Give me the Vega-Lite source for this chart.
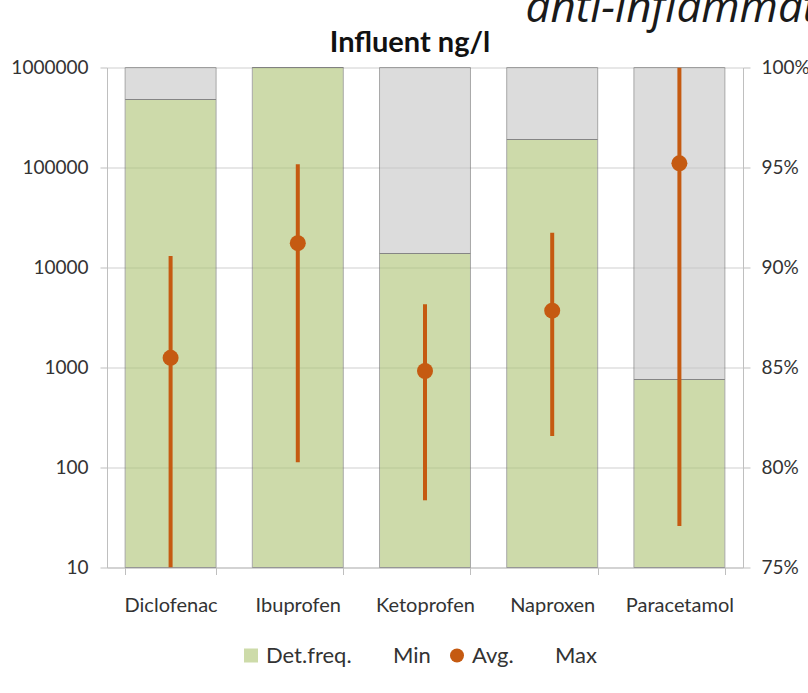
{
  "$schema": "https://vega.github.io/schema/vega-lite/v6.json",
  "width": 636,
  "height": 500,
  "autosize": {"type": "none"},
  "padding": {"left": 107, "top": 67.5, "right": 65, "bottom": 125.5},
  "background": "white",
  "title": {"text": "Influent ng/l", "font": "Lato", "fontSize": 29, "fontWeight": "bold", "color": "#111111", "anchor": "middle", "frame": "group", "dx": -15, "offset": 0, "baseline": "alphabetic", "dy": 95},
  "config": {
    "view": {"stroke": null},
    "font": "Lato",
    "legend": {"orient": "none", "legendX": 133, "legendY": 577, "direction": "horizontal", "labelFont": "Lato", "labelFontSize": 22, "labelColor": "#333333", "symbolSize": 196, "columnPadding": 15, "labelOffset": 4, "symbolStrokeWidth": 0, "padding": 0}
  },
  "data": {"values": [
    {"drug": "Diclofenac", "det": 98.4, "min": 10, "avg": 1250, "max": 13000},
    {"drug": "Ibuprofen", "det": 100, "min": 113, "avg": 17500, "max": 108000},
    {"drug": "Ketoprofen", "det": 90.7, "min": 47, "avg": 923, "max": 4290},
    {"drug": "Naproxen", "det": 96.4, "min": 207, "avg": 3700, "max": 22300},
    {"drug": "Paracetamol", "det": 84.4, "min": 26, "avg": 110000, "max": 1000000}
  ]},
  "layer": [
    {"layer": [
      {"mark": {"type": "bar", "fill": "#c5c5c5", "opacity": 0.6, "stroke": "#6f6f6f", "strokeWidth": 1},
       "encoding": {
         "x": {"field": "drug", "type": "nominal", "sort": null, "scale": {"paddingInner": 0.285, "paddingOuter": 0.1425},
               "axis": {"title": null, "labelAngle": 0, "labelFont": "Lato", "labelFontSize": 20, "labelColor": "#333333", "labelPadding": 21, "domainColor": "#bfbfbf", "tickColor": "#bfbfbf", "tickSize": 7, "tickBand": "extent", "grid": false}},
         "y": {"field": "det", "type": "quantitative", "scale": {"domain": [75, 100], "zero": false, "nice": false},
               "axis": {"orient": "right", "values": [75, 80, 85, 90, 95, 100], "labelExpr": "datum.value + '%'", "grid": false, "labelFont": "Lato", "labelFontSize": 19, "labelColor": "#333333", "labelPadding": 11, "domainColor": "#bfbfbf", "tickColor": "#bfbfbf", "tickSize": 7,
                        "title": "anti-inflammatory", "titleAngle": 0, "titleX": -218, "titleY": -46.5, "titleAlign": "left", "titleBaseline": "alphabetic", "titleFont": "Open Sans", "titleFontStyle": "italic", "titleFontWeight": "normal", "titleFontSize": 44, "titleColor": "#1a1a1a"}},
         "y2": {"datum": 100}
       }},
      {"mark": {"type": "bar", "fill": "#acc373", "opacity": 0.6, "stroke": "#6f6f6f", "strokeWidth": 1},
       "encoding": {
         "x": {"field": "drug", "type": "nominal", "sort": null},
         "y": {"field": "det", "type": "quantitative"},
         "y2": {"datum": 75}
       }}
    ]},
    {"layer": [
      {"mark": {"type": "rule", "color": "#c55a11", "strokeWidth": 4, "clip": true},
       "encoding": {
         "x": {"field": "drug", "type": "nominal", "sort": null},
         "y": {"field": "min", "type": "quantitative", "scale": {"type": "log", "domain": [10, 1000000], "nice": false},
               "axis": {"orient": "left", "title": null, "values": [10, 100, 1000, 10000, 100000, 1000000], "format": "d", "grid": true, "gridColor": "#cfcfcf", "labelFont": "Lato", "labelFontSize": 19, "labelColor": "#333333", "labelPadding": 12, "domainColor": "#bfbfbf", "tickColor": "#bfbfbf", "tickSize": 7}},
         "y2": {"field": "max"}
       }},
      {"mark": {"type": "point", "filled": true, "opacity": 1, "size": 256},
       "encoding": {
         "x": {"field": "drug", "type": "nominal", "sort": null},
         "y": {"field": "avg", "type": "quantitative"},
         "color": {"datum": "Avg.", "type": "nominal", "scale": {"domain": ["Det.freq.", "Min", "Avg.", "Max"], "range": ["#cddba9", "transparent", "#c55a11", "transparent"]}, "legend": {"title": null}},
         "shape": {"datum": "Avg.", "type": "nominal", "scale": {"domain": ["Det.freq.", "Min", "Avg.", "Max"], "range": ["square", "circle", "circle", "circle"]}, "legend": {"title": null}}
       }}
    ]}
  ],
  "resolve": {"scale": {"y": "independent"}}
}
